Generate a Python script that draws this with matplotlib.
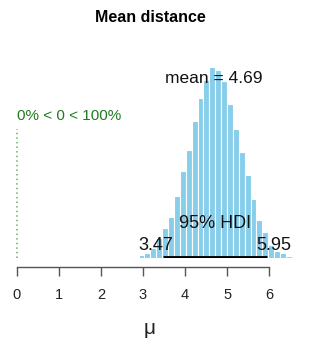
import numpy as np
import matplotlib
matplotlib.use('Agg')
import matplotlib.pyplot as plt
import warnings
warnings.filterwarnings('ignore')

plt.rcParams['font.family'] = ['Liberation Sans', 'DejaVu Sans']

# Histogram of posterior samples (bin edges + bar heights)
bin_start = 2.755
bin_width = 0.14
heights = [1, 2.5, 5, 10, 20, 30, 41, 62, 87, 108, 137, 160, 178, 191, 188,
           177, 154, 129, 106, 83, 59, 38, 26, 13, 7, 4.5, 2, 1, 0.5]

mean_val = 4.69
hdi_low = 3.47
hdi_high = 5.95
comp_val = 0
comp_text = "0% < 0 < 100%"
title = "Mean distance"
xlabel = "μ"
xticks = [0, 1, 2, 3, 4, 5, 6]

W, H = 321, 345
fig = plt.figure(figsize=(W / 100, H / 100), dpi=100)

# axes placement in pixels
px_per_unit = 42.1
x0_px = 16.7
xlim = (-0.2, 7.1)
base_px = 257.5          # y pixel (from top) of the histogram baseline
top_px = 40
left_px = x0_px + xlim[0] * px_per_unit
right_px = x0_px + xlim[1] * px_per_unit
ax = fig.add_axes([left_px / W, (H - base_px) / H,
                   (right_px - left_px) / W, (base_px - top_px) / H])
ax.set_xlim(*xlim)
ax.set_ylim(0, base_px - top_px)

edges = bin_start + bin_width * np.arange(len(heights) + 1)
ax.bar(edges[:-1], heights, width=bin_width, align='edge',
       color='#87CEEB', edgecolor='white', linewidth=0.8, zorder=2)

max_ht = max(heights)
cv_ht = 0.7 * max_ht

# comparison value
ax.plot([comp_val, comp_val], [0, 0.96 * cv_ht], ls=(0, (1, 2)), lw=1.1,
        color='#6ab06a', zorder=1)
ax.text(comp_val, cv_ht + 8, comp_text, color='#1f7a1f', fontsize=11,
        ha='left', va='center')

# mean
ax.text(mean_val, 179, f"mean = {mean_val}", fontsize=12.5, ha='center',
        va='center', color='#111111', zorder=3)

# HDI
ax.plot([hdi_low, hdi_high], [0, 0], color='black', lw=3.5,
        solid_capstyle='butt', zorder=4)
ax.text((hdi_low + hdi_high) / 2, 34, "95% HDI", fontsize=13,
        ha='center', va='center', color='#111111', zorder=3)
ax.annotate(f"{hdi_low}", (hdi_low, 12), xytext=(-5, 0),
            textcoords='offset points', fontsize=13, ha='center',
            va='center', color='#111111', zorder=3)
ax.annotate(f"{hdi_high}", (hdi_high, 12), xytext=(5, 0),
            textcoords='offset points', fontsize=13, ha='center',
            va='center', color='#111111', zorder=3)

for s in ['top', 'right', 'left']:
    ax.spines[s].set_visible(False)
ax.spines['bottom'].set_position(('outward', 6.5))
ax.spines['bottom'].set_bounds(xticks[0], xticks[-1])
ax.spines['bottom'].set_color('#555555')
ax.spines['bottom'].set_linewidth(1.0)
ax.set_yticks([])
ax.set_xticks(xticks)
ax.set_xticklabels([str(t) for t in xticks])
ax.tick_params(axis='x', length=6.5, width=1.0, color='#555555',
               labelsize=10.5, pad=9, labelcolor='#222222')

fig.text(150 / W, 1 - 18 / H, title, fontsize=11.5, fontweight='bold',
         ha='center', va='center')
fig.text(150 / W, 1 - 328 / H, xlabel, fontsize=15, ha='center',
         va='center', color='#222222')

fig.savefig('out.png', dpi=100)
